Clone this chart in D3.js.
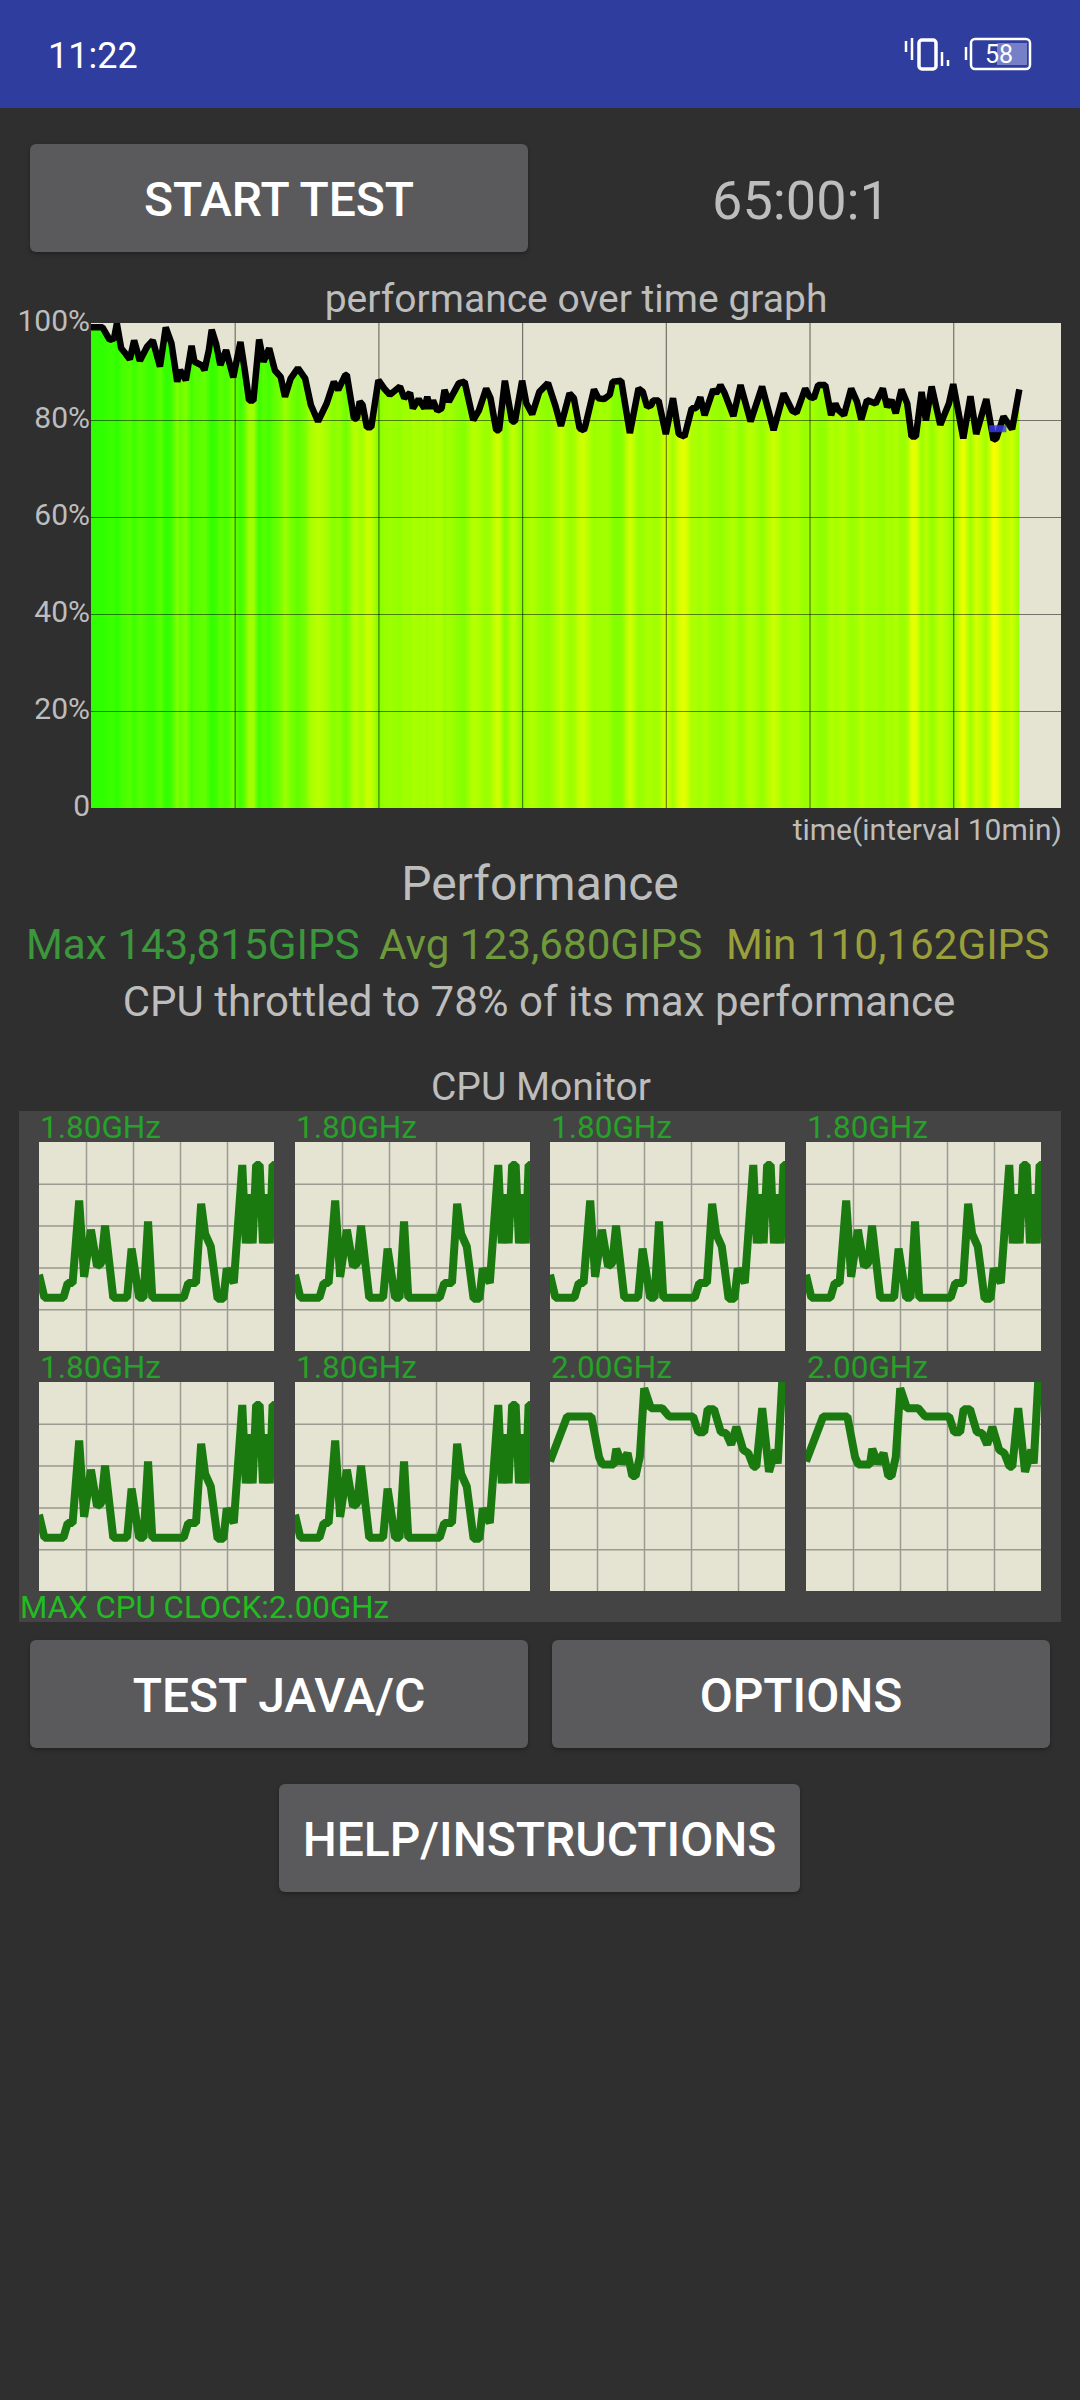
<!DOCTYPE html>
<html>
<head>
<meta charset="utf-8">
<script src="https://cdn.jsdelivr.net/npm/d3@7"></script>
<style>
  body { margin: 0; background: #2f2f2f; }
  text { font-family: Roboto, sans-serif; }
</style>
</head>
<body>
<div id="app"></div>
<script>
// performance trace
var perfMinutes = [0,0.8,1.3,1.6,1.8,2.1,2.4,2.7,3.0,3.4,3.9,4.3,4.8,5.2,5.6,6.0,6.2,6.6,7.0,7.2,7.7,7.9,8.2,8.4,8.7,9.0,9.4,9.9,10.4,10.7,11.0,11.3,11.7,12.0,12.4,12.8,13.2,13.5,13.9,14.4,14.9,15.3,15.8,16.4,
  16.9,17.2,17.7,17.8,18.3,18.5,18.7,18.9,19.2,19.5,20.0,20.4,20.8,21.5,21.8,22.2,22.4,22.8,23.2,23.4,23.6,23.8,24.1,24.4,24.6,24.9,25.6,26.0,26.6,27.0,27.5,27.8,28.2,28.4,28.8,29.3,29.5,30.0,30.3,30.7,31.2,31.8,32.3,32.7,33.3,
  33.6,34.0,34.3,34.4,35.0,35.3,35.7,36.1,36.3,36.9,37.5,38.1,38.4,38.7,39.0,39.1,39.5,40.0,40.5,40.9,41.3,41.8,42.1,42.4,42.7,43.3,43.5,43.7,43.8,44.1,44.7,45.2,45.9,46.7,47.5,48.2,48.8,49.1,49.7,50.0,
  50.3,50.6,51.1,51.5,51.8,52.0,52.4,52.9,53.3,53.6,54.0,54.6,55.1,55.4,55.7,56.0,56.4,56.8,57.1,57.4,57.8,58.1,58.5,59.1,59.7,60.0,60.7,61.2,61.6,62.3,62.8,63.0,63.5,64.1,64.6];
var perfValues = [99.1,99.1,96.5,96.8,99.9,94.8,93.7,92.5,96.4,92.2,95.1,96.4,91,99.1,95.8,87.9,90.3,88.2,95.3,92,91.3,90.3,94.4,98.6,95.8,91.3,94.4,88.8,96.1,90.3,84,84,96.6,92,94.8,90.2,88.9,84.8,88.6,90.7,88.6,83.1,79.7,83.4,
  87.9,86.2,89.3,89.3,80.3,80.3,83.8,83.1,78.5,78.5,88.2,86.5,85.2,86.9,84.5,85.6,82.4,84.3,82.4,84.8,82.4,84,81.9,82.4,86.2,83.8,87.6,87.9,80,82,86.5,84.5,77.9,77.9,88.1,79.7,79.7,88.1,83.4,81.2,85.8,87.6,83.1,78.8,85.5,
  84.5,78.3,77.9,78.8,86.3,84.5,84.3,85.2,87.9,88.1,77.3,86.5,85.8,82.7,83.1,84,84,77.1,84.5,77.1,76.6,82.4,82.4,84.7,81,86.3,85.5,86.5,87.2,85.5,80.8,87.2,79.7,86.9,77.9,85.5,81.9,81.5,86.5,84.8,
  84.5,87.2,87.2,81,83.4,82.1,81,86.5,83.8,80.1,84.1,83.4,86.5,82.7,84.1,81.4,86.3,83.4,76.6,76.6,85.8,79.9,86.9,79,83.4,87.4,76.2,84.9,77.1,84.3,75.9,76.2,80.7,78.1,86.3];
var blueMinutes = [62.5, 63.7];
var blueValues = [78.2, 78.2];

var perfTicks = [0, 20, 40, 60, 80, 100];
var timeTicks = [10, 20, 30, 40, 50, 60];
var colorLevels = [100, 96, 90, 87, 83, 80, 77, 76];
var colorRange = ["#2bff00", "#3cff00", "#66ff00", "#94ff00", "#a8ff00", "#b8ff00", "#d8ff00", "#f8ff00"];

// cpu monitor traces: percent of the window width, clock in GHz
var cpuTimeA = [0,2.3,10.4,12.2,14.3,17.1,19.2,22.1,24.7,26.5,28.1,31.6,37.5,39.4,42.6,44.5,46.4,48.2,61.6,63.5,66.8,69,70.7,73.1,76,78.5,79.9,82.9,86.5,88,89.4,90.9,92.4,93.9,95.3,96.7,98.2,99.4,100];
var cpuGhzA = [0.73,0.51,0.51,0.65,0.65,1.44,0.71,1.16,0.81,0.84,1.2,0.51,0.51,0.98,0.51,0.51,1.24,0.51,0.51,0.65,0.65,1.41,1.12,1,0.5,0.5,0.79,0.65,1.78,1.03,1.5,1.03,1.78,1.78,1.03,1.5,1.03,1.78,1.78];
var cpuTimeB = [0,2.9,7.3,17.6,20.9,22.3,27.2,28.2,30.6,33,35,36.4,38.2,40.1,42.9,47.7,50.7,60.9,63.1,65.6,67.1,69.8,72.7,74.9,77.1,79.3,82.2,84.4,86.6,87.8,90.3,93.2,95.9,96.9,98.8,100];
var cpuGhzB = [1.24,1.41,1.67,1.67,1.28,1.21,1.21,1.36,1.22,1.32,1.1,1.1,1.28,1.94,1.75,1.75,1.67,1.67,1.52,1.52,1.74,1.74,1.52,1.51,1.4,1.57,1.35,1.32,1.19,1.19,1.75,1.14,1.35,1.22,2,2];
var cpuLabels = ["1.80GHz", "1.80GHz", "1.80GHz", "1.80GHz", "1.80GHz", "1.80GHz", "2.00GHz", "2.00GHz"];
var cpuKinds = ["A", "A", "A", "A", "A", "A", "B", "B"];
var cpuGridX = [20, 40, 60, 80];
var cpuGridY = [0.4, 0.8, 1.2, 1.6];

var svg = d3.select("#app").append("svg")
    .attr("width", 1080)
    .attr("height", 2400)
    .style("display", "block");

svg.append("rect").attr("width", 1080).attr("height", 2400).attr("fill", "#2f2f2f");

function label(str, x, y, size, color, anchor, weight) {
    return svg.append("text")
        .attr("x", x)
        .attr("y", y)
        .attr("font-size", size)
        .attr("fill", color)
        .attr("text-anchor", anchor || "start")
        .attr("font-weight", weight || 400)
        .text(str);
}

function button(str, x, y, w, h, textY) {
    svg.append("rect")
        .attr("x", x).attr("y", y)
        .attr("width", w).attr("height", h)
        .attr("rx", 6)
        .attr("fill", "#5a5a5c")
        .style("filter", "drop-shadow(0 2px 2px rgba(0,0,0,0.3))");
    label(str, x + w / 2, textY, 48, "#ffffff", "middle", 500);
}

// status bar
svg.append("rect").attr("width", 1080).attr("height", 108).attr("fill", "#2f3d9e");
label("11:22", 48, 68, 36, "#ffffff");

var icons = svg.append("g").attr("fill", "none").attr("stroke", "#ffffff");
icons.append("rect").attr("x", 919).attr("y", 40).attr("width", 17).attr("height", 29).attr("rx", 3).attr("stroke-width", 3.5);
icons.append("path").attr("d", "M906 41V52M912 38V60M942 52V66M948 60V66").attr("stroke-width", 2.5);
icons.append("path").attr("d", "M966 47V60").attr("stroke-width", 2.5);
svg.append("rect").attr("x", 997).attr("y", 43).attr("width", 30).attr("height", 22).attr("fill", "#7680c6");
icons.append("rect").attr("x", 971).attr("y", 39).attr("width", 59).attr("height", 30).attr("rx", 4).attr("stroke-width", 2.5);
label("58", 999, 63, 25, "#ffffff", "middle");

button("START TEST", 30, 144, 498, 108, 216);
label("65:00:1", 801, 219, 54, "#bdbdbd", "middle");

// performance graph
var margin = { top: 323, right: 19, bottom: 1592, left: 91 },
    width = 1080 - margin.left - margin.right,
    height = 2400 - margin.top - margin.bottom;

label("performance over time graph", 576, 312, 39, "#bdbdbd", "middle");

var plot = svg.append("g")
    .attr("transform", "translate(" + margin.left + "," + margin.top + ")");

var x = d3.scaleLinear().domain([0, 67.5]).range([0, width]);
var y = d3.scaleLinear().domain([0, 100]).range([height, 0]);
var heat = d3.scaleLinear().domain(colorLevels).range(colorRange);

plot.append("rect").attr("width", width).attr("height", height).attr("fill", "#e5e4d3");

// the fill takes its colour from the value at each moment
var gradient = svg.append("defs").append("linearGradient")
    .attr("id", "heat")
    .attr("gradientUnits", "userSpaceOnUse")
    .attr("x1", x(0)).attr("x2", x(perfMinutes[perfMinutes.length - 1]))
    .attr("y1", 0).attr("y2", 0);
var lastMinute = perfMinutes[perfMinutes.length - 1];
gradient.selectAll("stop")
    .data(perfMinutes)
    .enter()
    .append("stop")
    .attr("offset", d => d / lastMinute)
    .attr("stop-color", (d, i) => heat(perfValues[i]));

var area = d3.area()
    .x((d, i) => x(perfMinutes[i]))
    .y0(height)
    .y1((d, i) => y(perfValues[i]));
plot.append("path").datum(perfValues).attr("d", area).attr("fill", "url(#heat)");

// grid comes from the axes
var gridX = plot.append("g")
    .attr("transform", "translate(0," + height + ")")
    .call(d3.axisBottom(x).tickValues(timeTicks).tickSize(height).tickFormat(""));
gridX.selectAll(".tick line").attr("y2", -height);
var gridY = plot.append("g")
    .call(d3.axisLeft(y).tickValues(perfTicks.slice(1, 5)).tickSize(-width).tickFormat(""));
plot.selectAll(".domain").remove();
plot.selectAll(".tick line")
    .attr("stroke", "#000000")
    .attr("stroke-opacity", 0.5)
    .attr("stroke-width", 1.2);

var yAxis = plot.append("g")
    .call(d3.axisLeft(y).tickValues(perfTicks).tickSize(0).tickPadding(1)
        .tickFormat(d => d === 0 ? "0" : d + "%"));
yAxis.select(".domain").remove();
yAxis.selectAll("text")
    .attr("font-size", 30)
    .attr("font-family", "Roboto, sans-serif")
    .attr("fill", "#bdbdbd")
    .attr("dy", "0.25em");

var clip = svg.select("defs").append("clipPath").attr("id", "plot-clip");
clip.append("rect").attr("width", width).attr("height", height);

var perfLine = d3.line().x((d, i) => x(perfMinutes[i])).y(d => y(d));
plot.append("path").datum(perfValues)
    .attr("d", perfLine)
    .attr("fill", "none")
    .attr("stroke", "#000000")
    .attr("stroke-width", 6.5)
    .attr("stroke-linejoin", "bevel")
    .attr("clip-path", "url(#plot-clip)");

// short blue stretch, sits on top of the trace near the end
var blueLine = d3.line().x((d, i) => x(blueMinutes[i])).y(d => y(d));
plot.append("path").datum(blueValues)
    .attr("d", blueLine)
    .attr("fill", "none")
    .attr("stroke", "#3a3af0")
    .attr("stroke-opacity", 0.8)
    .attr("stroke-width", 7);

label("time(interval 10min)", 1062, 840, 30, "#bdbdbd", "end");
label("Performance", 540, 900, 48, "#bdbdbd", "middle");
label("Max 143,815GIPS", 26, 959, 42.2, "#3c963c");
label("Avg 123,680GIPS", 379, 959, 42.2, "#6f9a3c");
label("Min 110,162GIPS", 726, 959, 42.2, "#9a9f3c");
label("CPU throttled to 78% of its max performance", 539, 1016, 42, "#bdbdbd", "middle");
label("CPU Monitor", 541, 1100, 39, "#bdbdbd", "middle");

// cpu monitor
svg.append("rect").attr("x", 19).attr("y", 1111).attr("width", 1042).attr("height", 511).attr("fill", "#444444");

var cpuCols = [39, 295, 550, 806];
var cpuRows = [1142, 1382];
var cpuW = 235, cpuH = 209;
var cpuX = d3.scaleLinear().domain([0, 100]).range([0, cpuW]);
var cpuY = d3.scaleLinear().domain([0, 2]).range([cpuH, 0]);

svg.select("defs").append("clipPath").attr("id", "cpu-clip")
    .append("rect").attr("width", cpuW).attr("height", cpuH);

cpuLabels.forEach((name, i) => {
    var px = cpuCols[i % 4], py = cpuRows[Math.floor(i / 4)];
    var g = svg.append("g").attr("transform", "translate(" + px + "," + py + ")");
    var times = cpuKinds[i] === "A" ? cpuTimeA : cpuTimeB;
    var ghz = cpuKinds[i] === "A" ? cpuGhzA : cpuGhzB;

    g.append("rect").attr("width", cpuW).attr("height", cpuH).attr("fill", "#e5e4d3");
    g.append("g").attr("transform", "translate(0," + cpuH + ")")
        .call(d3.axisBottom(cpuX).tickValues(cpuGridX).tickFormat("").tickSize(0))
        .selectAll(".tick line").attr("y2", -cpuH);
    g.append("g")
        .call(d3.axisLeft(cpuY).tickValues(cpuGridY).tickFormat("").tickSize(-cpuW));
    g.selectAll(".domain").remove();
    g.selectAll(".tick line").attr("stroke", "#9a9a90").attr("stroke-width", 1.5);

    g.append("path").datum(ghz)
        .attr("d", d3.line().x((d, k) => cpuX(times[k])).y(d => cpuY(d)))
        .attr("fill", "none")
        .attr("stroke", "#1a7a10")
        .attr("stroke-width", 8)
        .attr("stroke-linejoin", "bevel")
        .attr("clip-path", "url(#cpu-clip)");

    label(name, px + 1, py - 4, 31.5, "#27a127");
});

label("MAX CPU CLOCK:2.00GHz", 20, 1618, 31.3, "#22bb22");

button("TEST JAVA/C", 30, 1640, 498, 108, 1712);
button("OPTIONS", 552, 1640, 498, 108, 1712);
button("HELP/INSTRUCTIONS", 279, 1784, 521, 108, 1856);
</script>
</body>
</html>
